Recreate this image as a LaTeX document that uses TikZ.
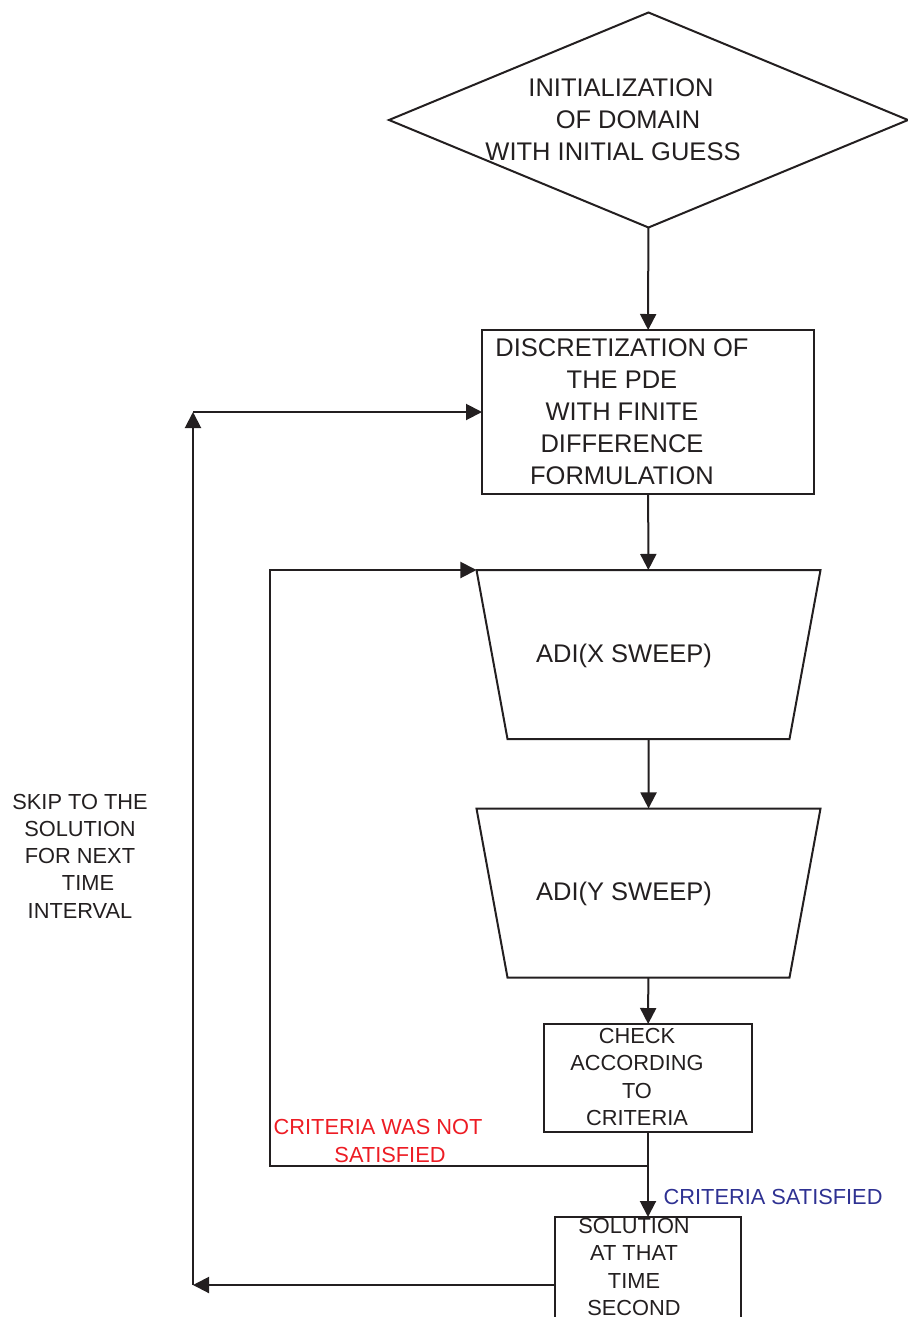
\documentclass[tikz,border=0pt]{standalone}
\usepackage{fontspec}
\setmainfont{Liberation Sans}
\usetikzlibrary{arrows.meta,shapes.geometric}

\definecolor{ink}{RGB}{35,31,32}
\definecolor{notok}{RGB}{237,28,36}
\definecolor{okblue}{RGB}{46,49,146}

\begin{document}
\begin{tikzpicture}[
    x=0.5pt,
    y=-0.5pt,
    ->,
    >={Triangle[length=8pt,width=8pt]},
    line width=1pt,
    color=ink,
    big/.style={font=\fontsize{12.75}{16}\selectfont, align=center},
    small/.style={font=\fontsize{10.9}{13.6}\selectfont, align=center},
    box/.style={draw, rectangle, inner sep=0pt, outer sep=0pt},
    sweep/.style={
      draw,
      trapezium,
      trapezium left angle=100.4,
      trapezium right angle=100.4,
      text width=141pt,
      text height=84.5pt,
      text depth=0pt,
      inner sep=0pt,
      outer sep=0pt
    }
    ]

    \useasboundingbox (0,0) rectangle (908,1317);

    \node [draw, diamond, minimum width=259.5pt, minimum height=107.5pt, inner sep=0pt, outer sep=0pt] (init) at (648.5,120) {};
    \node [big] (initT) at (621,120) {INITIALIZATION\\ \hspace*{7pt}OF DOMAIN\\ \hspace*{-8pt}WITH INITIAL GUESS};

    \node [box, minimum width=166pt, minimum height=82pt] (disc) at (648,412) {};
    \node [big] (discT) at (622,411.5) {DISCRETIZATION OF\\ THE PDE\\ WITH FINITE\\ DIFFERENCE\\ FORMULATION};

    \node [sweep] (adix) at (648.5,654.5) {};
    \node [big] (adixT) at (624,656) {ADI(X SWEEP)};
    \node [sweep] (adiy) at (648.5,893) {};
    \node [big] (adiyT) at (624,894) {ADI(Y SWEEP)};

    \node [box, minimum width=104pt, minimum height=54pt] (check) at (648,1078) {};
    \node [small] (checkT) at (637,1077) {CHECK\\ ACCORDING\\ TO\\ CRITERIA};

    \node [box, minimum width=93pt, minimum height=68pt] (sol) at (648,1285) {};
    \node [small] (solT) at (634,1267) {SOLUTION\\ AT THAT\\ TIME\\ SECOND};

    \node [small] (skip) at (80,856) {SKIP TO THE\\ SOLUTION\\ FOR NEXT\\ \hspace*{8pt}TIME\\ INTERVAL};
    \node [small, text=notok] (fail) at (378,1141) {CRITERIA WAS NOT\\ \hspace*{12pt}SATISFIED};
    \node [small, text=okblue, anchor=west] (pass) at (656,1197) {CRITERIA SATISFIED};

    \coordinate (split) at (648,1166);
    \coordinate (back) at (270,1166);
    \coordinate (low) at (193,1285);
    \coordinate (high) at (193,412);

    \path (init) edge (disc);
    \path (disc) edge (adix);
    \path (adix) edge (adiy);
    \path (adiy) edge (check);
    \path (check) edge (sol);

    \draw (split) -- (back) -- (back |- adix.top left corner) -- (adix.top left corner);

    \draw (sol.west) -- (low);
    \draw (low) -- (high);
    \draw (high) -- (disc.west);

\end{tikzpicture}
\end{document}
